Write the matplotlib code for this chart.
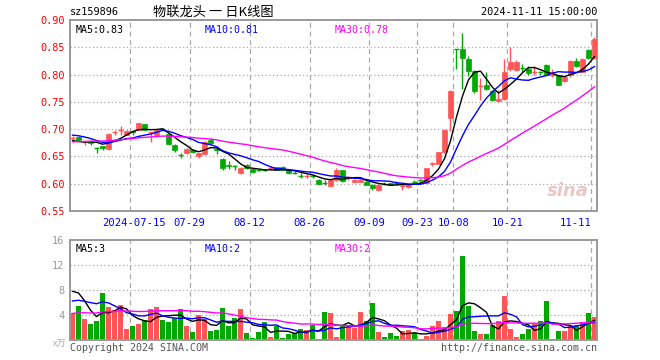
"""
Sina style daily K-line chart for sz159896 with volume panel.
"""

import numpy as np
import pandas as pd
import matplotlib

matplotlib.use("Agg")
import matplotlib.pyplot as plt


CODE = "sz159896"
TITLE = "物联龙头 一 日K线图"
STAMP = "2024-11-11 15:00:00"

TICK_LABELS = ["2024-07-15", "07-29", "08-12", "08-26", "09-09", "09-23", "10-08", "10-21", "11-11"]
TICK_IDX = [10, 20, 30, 40, 50, 58, 64, 73, 87]

OPEN = [
    0.682, 0.685, 0.675, 0.678, 0.667, 0.669, 0.664, 0.694, 0.697, 0.690,
    0.697, 0.699, 0.709, 0.693, 0.690, 0.701, 0.691, 0.671, 0.654, 0.657,
    0.662, 0.650, 0.654, 0.680, 0.664, 0.645, 0.634, 0.634, 0.619, 0.634,
    0.627, 0.626, 0.626, 0.627, 0.630, 0.631, 0.626, 0.621, 0.615, 0.613,
    0.615, 0.607, 0.603, 0.596, 0.607, 0.625, 0.611, 0.603, 0.604, 0.604,
    0.598, 0.589, 0.601, 0.601, 0.602, 0.594, 0.594, 0.605, 0.607, 0.602,
    0.636, 0.637, 0.658, 0.721, 0.847, 0.847, 0.829, 0.807, 0.778, 0.781,
    0.770, 0.751, 0.756, 0.810, 0.809, 0.813, 0.810, 0.803, 0.805, 0.818,
    0.799, 0.799, 0.788, 0.799, 0.825, 0.805, 0.845, 0.831,
]
HIGH = [
    0.687, 0.687, 0.679, 0.680, 0.667, 0.670, 0.693, 0.698, 0.705, 0.699,
    0.698, 0.712, 0.710, 0.695, 0.701, 0.702, 0.693, 0.673, 0.657, 0.665,
    0.664, 0.657, 0.678, 0.684, 0.670, 0.648, 0.641, 0.634, 0.630, 0.636,
    0.628, 0.627, 0.627, 0.633, 0.631, 0.632, 0.627, 0.623, 0.620, 0.618,
    0.618, 0.608, 0.606, 0.608, 0.628, 0.626, 0.614, 0.608, 0.609, 0.605,
    0.599, 0.599, 0.603, 0.602, 0.605, 0.598, 0.600, 0.606, 0.609, 0.629,
    0.640, 0.659, 0.701, 0.771, 0.847, 0.877, 0.834, 0.809, 0.793, 0.804,
    0.771, 0.772, 0.829, 0.851, 0.826, 0.820, 0.815, 0.815, 0.807, 0.819,
    0.810, 0.800, 0.797, 0.827, 0.830, 0.830, 0.846, 0.868,
]
LOW = [
    0.677, 0.678, 0.671, 0.671, 0.656, 0.662, 0.662, 0.690, 0.690, 0.689,
    0.690, 0.698, 0.698, 0.677, 0.688, 0.698, 0.671, 0.658, 0.647, 0.655,
    0.657, 0.648, 0.652, 0.672, 0.655, 0.625, 0.627, 0.626, 0.617, 0.627,
    0.619, 0.624, 0.624, 0.625, 0.625, 0.625, 0.617, 0.617, 0.610, 0.610,
    0.611, 0.599, 0.598, 0.594, 0.605, 0.604, 0.607, 0.601, 0.603, 0.597,
    0.589, 0.586, 0.598, 0.597, 0.598, 0.589, 0.593, 0.601, 0.602, 0.601,
    0.632, 0.636, 0.657, 0.697, 0.810, 0.773, 0.798, 0.767, 0.754, 0.772,
    0.751, 0.750, 0.754, 0.807, 0.807, 0.804, 0.799, 0.799, 0.800, 0.799,
    0.796, 0.780, 0.787, 0.796, 0.814, 0.804, 0.829, 0.829,
]
CLOSE = [
    0.683, 0.681, 0.676, 0.674, 0.666, 0.665, 0.691, 0.695, 0.698, 0.697,
    0.694, 0.711, 0.699, 0.694, 0.699, 0.700, 0.673, 0.661, 0.653, 0.664,
    0.659, 0.656, 0.677, 0.674, 0.662, 0.628, 0.632, 0.633, 0.628, 0.628,
    0.621, 0.625, 0.625, 0.628, 0.626, 0.626, 0.619, 0.620, 0.614, 0.614,
    0.614, 0.600, 0.602, 0.607, 0.625, 0.605, 0.612, 0.607, 0.607, 0.598,
    0.592, 0.598, 0.600, 0.598, 0.601, 0.595, 0.598, 0.604, 0.606, 0.628,
    0.638, 0.658, 0.699, 0.770, 0.846, 0.830, 0.807, 0.769, 0.779, 0.774,
    0.754, 0.755, 0.804, 0.823, 0.823, 0.812, 0.802, 0.804, 0.804, 0.800,
    0.800, 0.781, 0.796, 0.824, 0.816, 0.829, 0.831, 0.865,
]
# volume in 10k lots
VOLUME = [
    4.27, 5.44, 3.36, 2.56, 3.09, 7.52, 5.23, 4.80, 5.60, 1.76,
    2.24, 2.56, 3.20, 4.90, 5.28, 3.20, 2.88, 3.57, 4.96, 2.24,
    1.28, 4.00, 3.31, 1.44, 1.60, 5.12, 2.24, 3.52, 4.96, 1.12,
    0.32, 1.28, 2.88, 0.48, 2.20, 0.30, 1.00, 1.20, 1.80, 1.60,
    2.40, 0.20, 4.50, 4.30, 0.50, 2.20, 2.30, 2.00, 4.50, 3.10,
    6.00, 1.30, 0.50, 1.10, 0.60, 1.40, 1.60, 1.10, 0.20, 0.60,
    2.20, 3.10, 2.10, 4.20, 4.60, 13.40, 5.40, 1.40, 1.00, 1.00,
    2.40, 3.10, 7.00, 1.80, 0.50, 1.00, 1.80, 2.60, 3.00, 6.20,
    0.10, 1.40, 1.50, 2.40, 2.40, 2.90, 4.30, 3.70,
]
# sessions before the window, only feed the moving averages
PRIOR_CLOSE = [
    0.665, 0.668, 0.662, 0.660, 0.664, 0.668, 0.670, 0.666, 0.663, 0.667,
    0.672, 0.675, 0.671, 0.674, 0.678, 0.676, 0.673, 0.677, 0.680, 0.682,
    0.692, 0.698, 0.703, 0.701, 0.701, 0.690, 0.680, 0.672, 0.670,
]
PRIOR_VOLUME = [
    3.0, 2.8, 3.5, 3.1, 2.6, 3.9, 3.2, 2.9, 3.4, 3.0,
    3.6, 2.7, 3.3, 3.8, 3.1, 2.9, 3.5, 4.0, 3.2, 3.8,
    4.2, 5.1, 4.6, 4.9, 4.6, 6.8, 9.5, 10.2, 8.2,
]

UP = "#ff5555"
DOWN = "#00a800"
MA_COLORS = {5: "#000000", 10: "#0000ff", 30: "#ff00ff"}
FRAME = "#999999"
GRID = "#aaaaaa"
MONO = "DejaVu Sans Mono"
CJK = ["Noto Sans CJK SC", "DejaVu Sans"]


def moving_averages(prior, values):
    series = pd.Series(list(prior) + list(values), dtype=float)
    n = len(prior)
    return {w: series.rolling(w).mean().to_numpy()[n:] for w in (5, 10, 30)}


def style_axes(ax):
    for spine in ax.spines.values():
        spine.set_color(FRAME)
        spine.set_linewidth(1.4)
    ax.tick_params(length=0, pad=4)
    for i in TICK_IDX:
        ax.axvline(i - 0.5, color=GRID, lw=0.9, ls=(0, (4, 3)), zorder=0)


def draw_candles(ax, x):
    o = np.array(OPEN)
    c = np.array(CLOSE)
    colors = np.where(c >= o, UP, DOWN)
    ax.vlines(x, LOW, HIGH, colors=colors, lw=1.0, zorder=2)
    body = np.abs(c - o)
    flat = body < 0.0015
    ax.bar(x[~flat], body[~flat], bottom=np.minimum(o, c)[~flat], width=0.8,
           color=colors[~flat], edgecolor=colors[~flat], lw=0.5, zorder=3)
    ax.hlines(c[flat], x[flat] - 0.4, x[flat] + 0.4, colors=colors[flat], lw=1.0, zorder=3)
    return colors


def ma_labels(ax, ma, fmt, y):
    for w, xpos in ((5, 0.01), (10, 0.256), (30, 0.503)):
        ax.text(xpos, y, f"MA{w}:{fmt(ma[w][-1])}", transform=ax.transAxes,
                color=MA_COLORS[w], family=MONO, fontsize=7.2, va="top")


def main():
    x = np.arange(len(CLOSE))
    price_ma = moving_averages(PRIOR_CLOSE, CLOSE)
    vol_ma = moving_averages(PRIOR_VOLUME, VOLUME)

    fig = plt.figure(figsize=(6.6, 3.6), dpi=100)
    fig.patch.set_facecolor("white")
    ax = fig.add_axes([70 / 660, 1 - 211 / 360, 527 / 660, 191 / 360])
    axv = fig.add_axes([70 / 660, 1 - 340 / 360, 527 / 660, 100 / 360])

    # price panel
    style_axes(ax)
    colors = draw_candles(ax, x)
    for w, col in MA_COLORS.items():
        ax.plot(x, price_ma[w], color=col, lw=1.0, zorder=4)
    ax.set_xlim(-0.42, len(x) - 0.58)
    ax.set_ylim(0.55, 0.90)
    yt = np.arange(0.55, 0.901, 0.05)
    ax.set_yticks(yt)
    ax.set_yticklabels([f"{v:.2f}" for v in yt], color="#ff0000", family=MONO, fontsize=7.4)
    for v in yt[1:-1]:
        ax.axhline(v, color=GRID, lw=0.9, ls=(0, (1, 2)), zorder=0)
    ax.set_xticks([])
    for i, lab in zip(TICK_IDX, TICK_LABELS):
        ha = "right" if i == TICK_IDX[-1] else "center"
        ax.text(i - 0.5 + (0.8 if i == TICK_IDX[0] else 0), 0.538, lab, ha=ha, va="top",
                color="#0000ff", family=MONO, fontsize=7.6, clip_on=False)
    ma_labels(ax, price_ma, lambda v: f"{v:.2f}", 0.975)
    ax.text(0.985, 0.06, "sina", transform=ax.transAxes, ha="right", va="bottom",
            color="#e0b0b0", fontsize=13, style="italic", weight="bold", alpha=0.7)

    # volume panel
    style_axes(axv)
    axv.bar(x, VOLUME, width=0.8, color=colors, zorder=2)
    for w, col in MA_COLORS.items():
        axv.plot(x, vol_ma[w], color=col, lw=1.0, zorder=4)
    axv.set_xlim(ax.get_xlim())
    axv.set_ylim(0, 16)
    axv.set_yticks([4, 8, 12, 16])
    axv.set_yticklabels(["4", "8", "12", "16"], color="#999999", family=MONO, fontsize=7.4)
    for v in (4, 8, 12):
        axv.axhline(v, color=GRID, lw=0.9, ls=(0, (1, 2)), zorder=0)
    axv.set_xticks([])
    ma_labels(axv, vol_ma, lambda v: f"{int(v)}", 0.96)

    # header and footer
    fig.text(70 / 660, 1 - 12 / 360, CODE, family=MONO, fontsize=7.4, va="center")
    fig.text(213 / 660, 1 - 12 / 360, TITLE, family=CJK, fontsize=9.5, ha="center", va="center")
    fig.text(597 / 660, 1 - 12 / 360, STAMP, family=MONO, fontsize=7.4, ha="right", va="center")
    fig.text(66 / 660, 1 - 344 / 360, "x万", family=CJK, fontsize=6.5, color="#aaaaaa",
             ha="right", va="center", style="italic")
    fig.text(70 / 660, 1 - 348 / 360, "Copyright 2024 SINA.COM", family=MONO,
             fontsize=7.2, color="#555555", va="center")
    fig.text(597 / 660, 1 - 348 / 360, "http://finance.sina.com.cn", family=MONO,
             fontsize=7.2, color="#555555", ha="right", va="center")

    fig.savefig("out.png", dpi=100)
    plt.close(fig)


if __name__ == "__main__":
    main()
